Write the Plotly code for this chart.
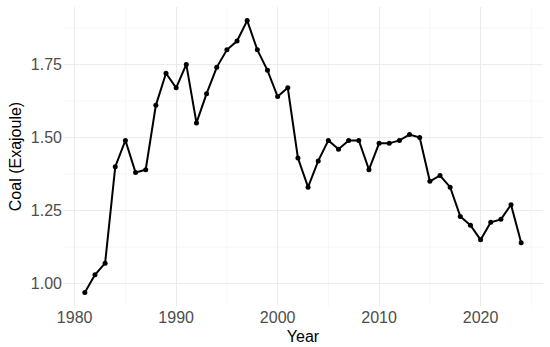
import plotly.graph_objects as go

years = list(range(1981, 2025))
coal = [0.97, 1.03, 1.07, 1.40, 1.49, 1.38, 1.39, 1.61, 1.72, 1.67,
        1.75, 1.55, 1.65, 1.74, 1.80, 1.83, 1.90, 1.80, 1.73, 1.64,
        1.67, 1.43, 1.33, 1.42, 1.49, 1.46, 1.49, 1.49, 1.39, 1.48,
        1.48, 1.49, 1.51, 1.50, 1.35, 1.37, 1.33, 1.23, 1.20, 1.15,
        1.21, 1.22, 1.27, 1.14]

x_ticks = [1980, 1990, 2000, 2010, 2020]
y_ticks = [1.00, 1.25, 1.50, 1.75]

fig = go.Figure()

# minor gridlines (ggplot theme_minimal style)
minor_x = [1985, 1995, 2005, 2015, 2025]
minor_y = [1.125, 1.375, 1.625, 1.875]
for mx in minor_x:
    fig.add_vline(x=mx, line=dict(color='#F4F4F4', width=0.8), layer='below')
for my in minor_y:
    fig.add_hline(y=my, line=dict(color='#F4F4F4', width=0.8), layer='below')

fig.add_trace(go.Scatter(
    x=years, y=coal, mode='lines+markers',
    line=dict(color='black', width=2),
    marker=dict(color='black', size=5),
    showlegend=False
))

ymin, ymax = min(coal), max(coal)
pad_y = (ymax - ymin) * 0.05
pad_x = (years[-1] - years[0]) * 0.05

fig.update_layout(
    width=550, height=347,
    margin=dict(l=63, r=7, t=7, b=41),
    plot_bgcolor='white', paper_bgcolor='white',
    font=dict(family='Liberation Sans, Arial, sans-serif'),
)
fig.update_xaxes(
    range=[years[0] - pad_x, years[-1] + pad_x],
    tickvals=x_ticks, ticktext=[str(t) for t in x_ticks],
    showgrid=True, gridcolor='#EBEBEB', gridwidth=1,
    zeroline=False, showline=False, ticks='', automargin=False,
    tickfont=dict(size=16, color='#4D4D4D'),
    title=dict(text='Year', font=dict(size=16, color='black'), standoff=5),
)
fig.update_yaxes(
    range=[ymin - pad_y, ymax + pad_y],
    tickvals=y_ticks, ticktext=[f'{t:.2f}' for t in y_ticks],
    showgrid=True, gridcolor='#EBEBEB', gridwidth=1,
    zeroline=False, showline=False, ticks='', automargin=False,
    tickfont=dict(size=16, color='#4D4D4D'),
    title=dict(text='Coal (Exajoule)', font=dict(size=16, color='black'), standoff=5),
)

# drop the browser's default body margin so the chart sits at (0, 0)
fig.write_html('out.html', config={'displayModeBar': False},
               post_script="document.body.style.margin='0';")
